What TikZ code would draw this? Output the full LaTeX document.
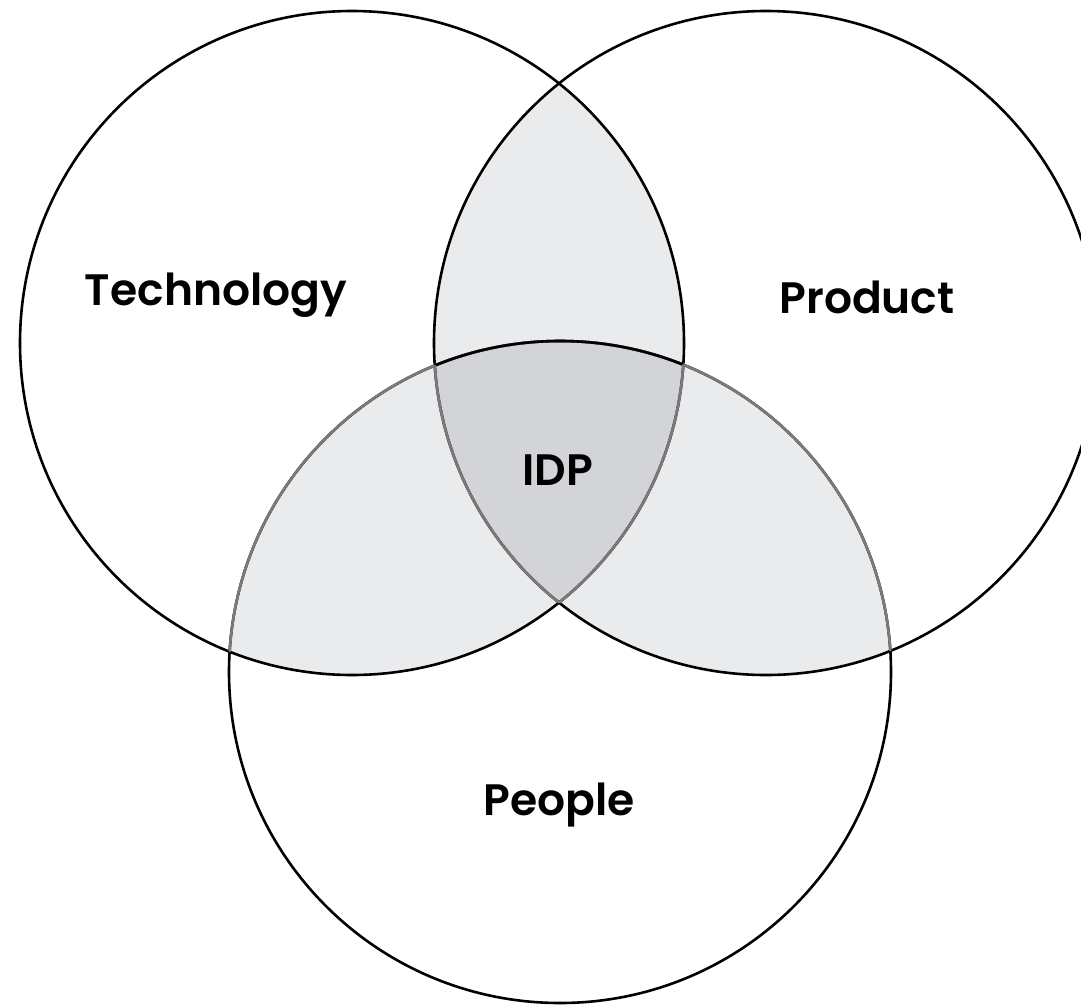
\documentclass[tikz,border=0pt]{standalone}
\usepackage{fontspec}
\setmainfont{Poppins}[UprightFont=* SemiBold]
\definecolor{pairfill}{HTML}{EAEBED}
\definecolor{triplefill}{HTML}{D3D4D7}
\definecolor{dimline}{HTML}{7A7A7A}
\tikzset{
  ring/.style={draw=black, line width=2.6pt},
  dimring/.style={draw=dimline, line width=2.6pt},
  setlabel/.style={anchor=base, font=\fontsize{44}{50}\selectfont, text=black, inner sep=0pt}
}
\def\tech{(352,343) circle (332pt)}
\def\prod{(766,343) circle (332pt)}
\def\peop{(560,672) circle (331pt)}
\begin{document}
\begin{tikzpicture}[x=1pt,y=-1pt]
\useasboundingbox (0,0) rectangle (1081,1007);
\clip (0,0) rectangle (1081,1007);
\fill[white] (0,0) rectangle (1081,1007);
% pairwise fills
\begin{scope}\clip \tech; \fill[pairfill] \prod; \fill[pairfill] \peop; \end{scope}
\begin{scope}\clip \prod; \fill[pairfill] \peop; \end{scope}
% triple fill
\begin{scope}\clip \tech; \clip \prod; \fill[triplefill] \peop; \end{scope}
% outlines
\draw[ring] \tech;
\draw[ring] \prod;
\draw[ring] \peop;
% dimmed arcs
\begin{scope}\clip \tech; \draw[dimring] \peop; \end{scope}
\begin{scope}\clip \prod; \draw[dimring] \peop; \end{scope}
\begin{scope}\clip \tech; \clip \prod; \draw[ring] \peop; \end{scope}
\begin{scope}\clip \prod; \clip \peop; \draw[dimring] \tech; \end{scope}
\begin{scope}\clip \tech; \clip \peop; \draw[dimring] \prod; \end{scope}
% labels
\node[setlabel] (technology) at (216,305) {Technology};
\node[setlabel] (product) at (867,313) {Product};
\node[setlabel] (idp) at (558,485) {IDP};
\node[setlabel] (people) at (559,815) {People};
\end{tikzpicture}
\end{document}
